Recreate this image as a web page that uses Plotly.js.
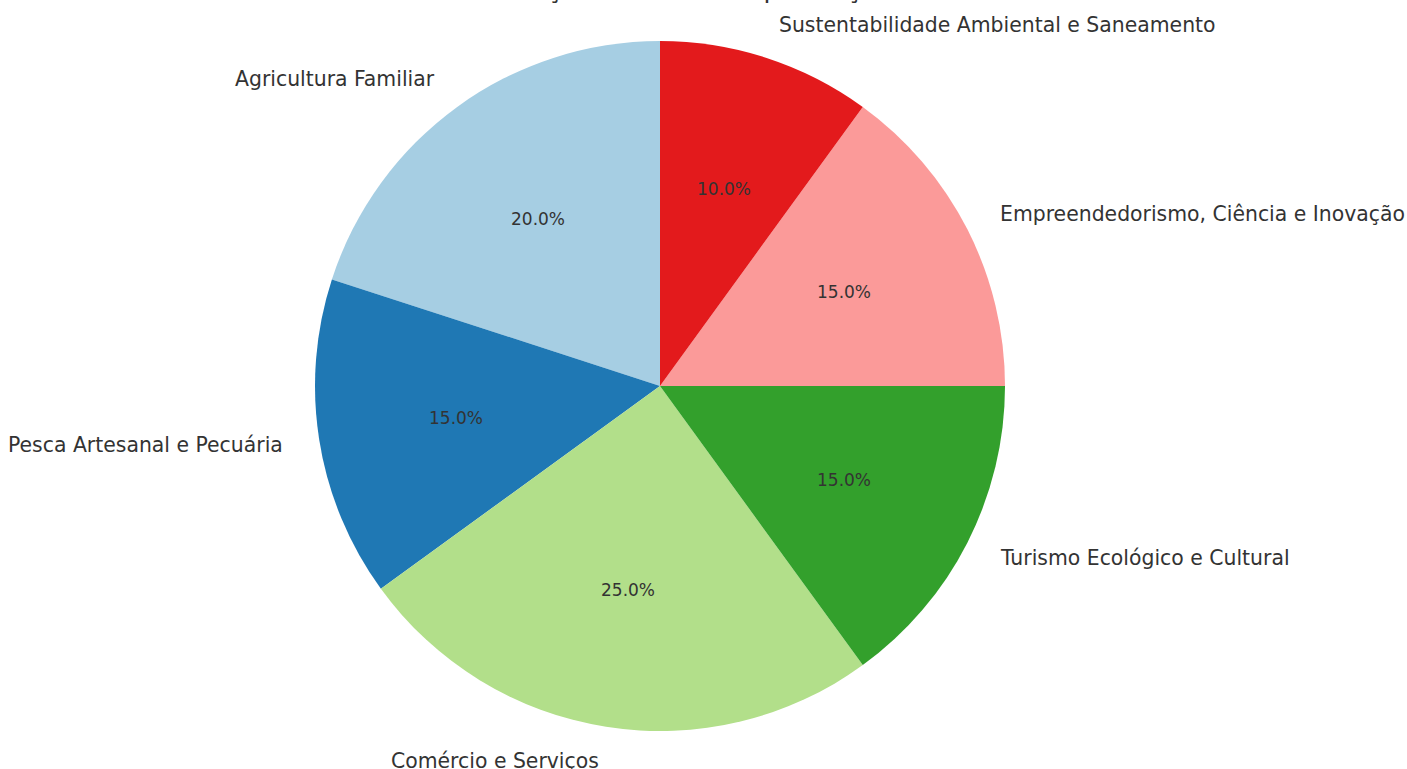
<!DOCTYPE html>
<html>
<head>
<meta charset="utf-8">
<script src="https://cdn.plot.ly/plotly-3.0.1.min.js"></script>
<style>html,body{margin:0;padding:0;background:#fff;}#chart{width:1407px;height:769px;}</style>
</head>
<body>
<div id="chart"></div>
<script>
const categories = [
  "Agricultura Familiar",
  "Pesca Artesanal e Pecuária",
  "Comércio e Serviços",
  "Turismo Ecológico e Cultural",
  "Empreendedorismo, Ciência e Inovação",
  "Sustentabilidade Ambiental e Saneamento"
];
const shares = [20, 15, 25, 15, 15, 10];
const colors = ["#a6cee3", "#1f78b4", "#b2df8a", "#33a02c", "#fb9a99", "#e31a1c"];
const chartTitle = "Distribuição de Recursos para Ações";

const W = 1407, H = 769;
const cx = 660, cy = 386, R = 345;
const dom = {
  x: [(cx - R) / W, (cx + R) / W],
  y: [(H - cy - R) / H, (H - cy + R) / H]
};

const total = shares.reduce((a, b) => a + b, 0);
const annotations = [];
let cum = 0;
shares.forEach((v, i) => {
  const mid = 90 + (cum + v / 2) / total * 360;
  cum += v;
  const t = mid * Math.PI / 180;
  const c = Math.cos(t), s = Math.sin(t);
  annotations.push({
    x: (cx + 0.6 * R * c) / W, y: 1 - (cy - 0.6 * R * s) / H,
    xref: 'paper', yref: 'paper', xanchor: 'center', yanchor: 'middle',
    text: (v / total * 100).toFixed(1) + '%', showarrow: false,
    font: {family: 'DejaVu Sans', size: 17, color: '#333333'}
  });
  annotations.push({
    x: (cx + 1.1 * R * c) / W, y: 1 - (cy - 1.1 * R * s) / H,
    xref: 'paper', yref: 'paper', xanchor: c >= 0 ? 'left' : 'right', yanchor: 'middle',
    text: categories[i], showarrow: false,
    font: {family: 'DejaVu Sans', size: 20.4, color: '#333333'}
  });
});
annotations.push({
  x: 672 / W, y: 1 - 6 / H, xref: 'paper', yref: 'paper',
  xanchor: 'center', yanchor: 'bottom', showarrow: false,
  text: chartTitle, font: {family: 'DejaVu Sans', size: 25.5, color: '#333333'}
});

// Plotly's counterclockwise mode ends the first slice at `rotation`; shift so it starts at 12 o'clock
const rot = -shares[0] / total * 360;

Plotly.newPlot('chart', [{
  type: 'pie',
  labels: categories,
  values: shares,
  sort: false,
  direction: 'counterclockwise',
  rotation: rot,
  marker: {colors: colors, line: {width: 0}},
  textinfo: 'none',
  hoverinfo: 'label+percent',
  domain: dom,
  showlegend: false
}], {
  width: W, height: H,
  margin: {l: 0, r: 0, t: 0, b: 0},
  paper_bgcolor: '#ffffff',
  showlegend: false,
  annotations: annotations,
  font: {family: 'DejaVu Sans'}
}, {displayModeBar: false, staticPlot: true});
</script>
</body>
</html>
